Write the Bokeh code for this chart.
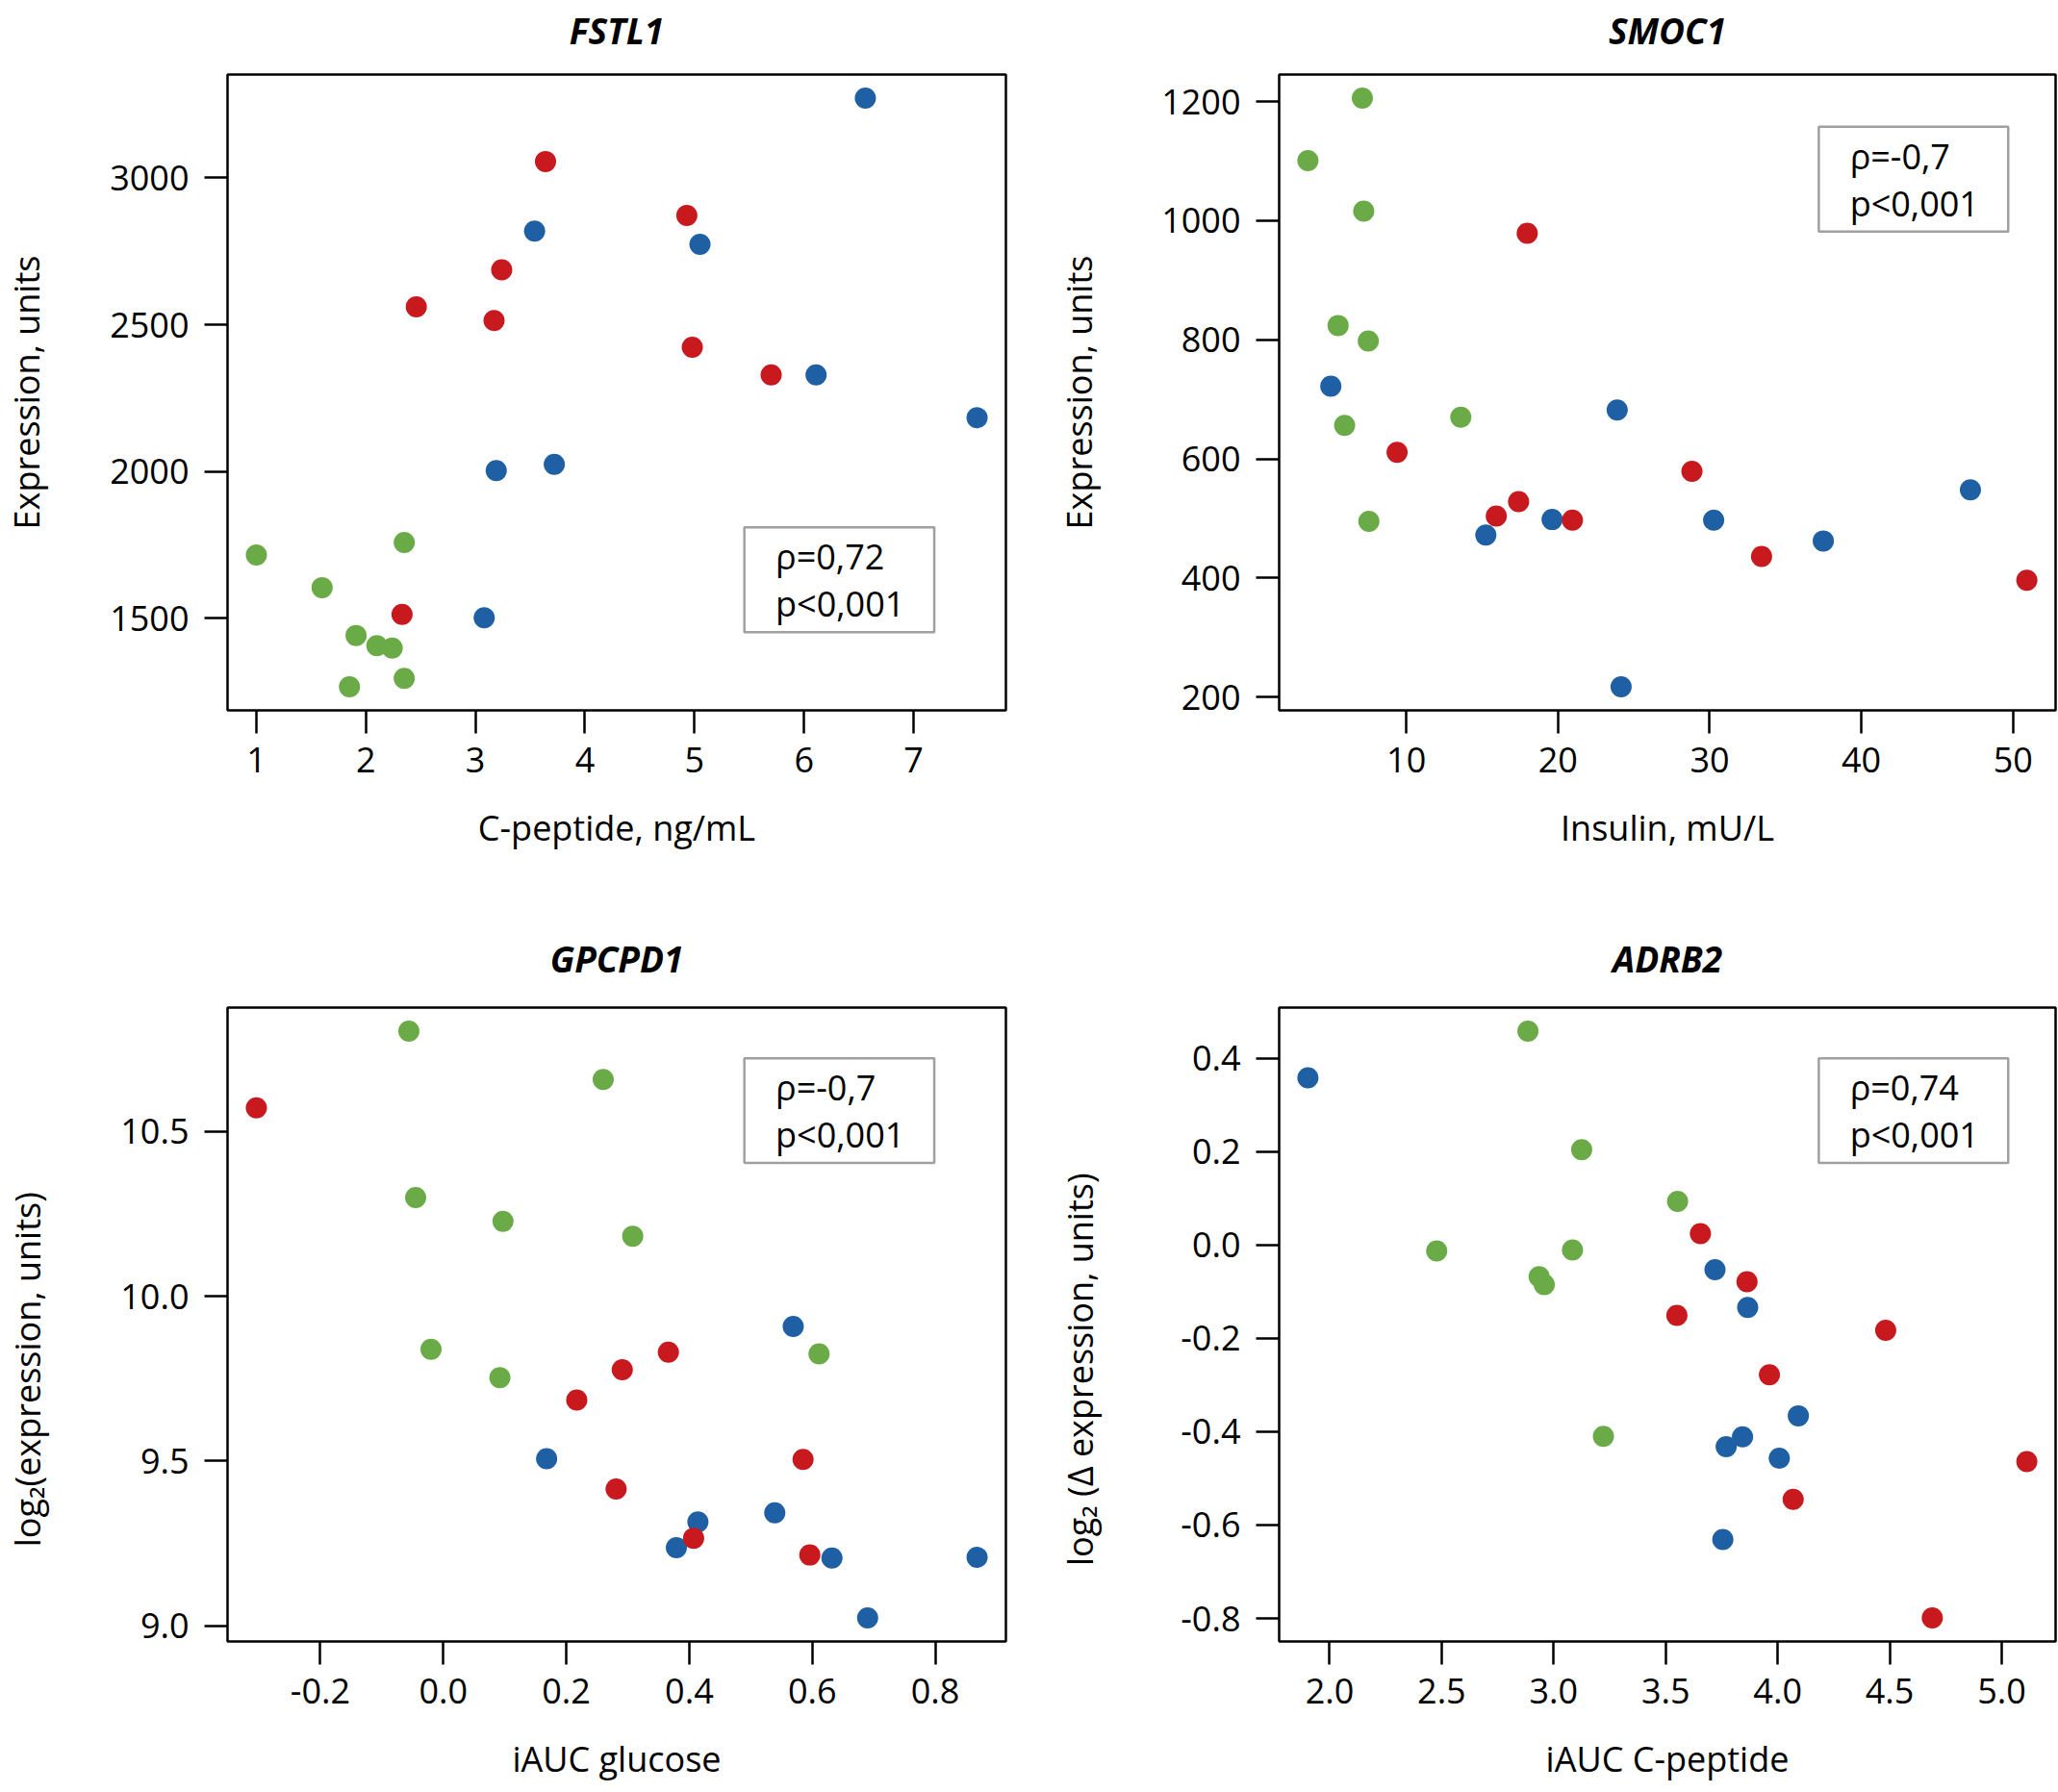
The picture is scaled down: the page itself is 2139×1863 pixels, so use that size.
from bokeh.plotting import figure
from bokeh.layouts import column, row
from bokeh.models import BoxAnnotation, Label, FixedTicker, Range1d, LinearAxis
from bokeh.embed import file_html
from bokeh.resources import INLINE

FONT = "Open Sans"
BLUE = "#1f5fa3"
RED = "#c8191f"
GREEN = "#6aab47"
NBSP_PAD = "\u00a0" * 10  # the log2 labels sit slightly below the frame centre in the reference

# ---------------- FSTL1 vs C-peptide ----------------
fstl1_x_blue = [6.56, 3.54, 5.05, 6.11, 7.58, 3.19, 3.72, 3.08]
fstl1_y_blue = [3272, 2819, 2774, 2329, 2183, 2003, 2024, 1501]
fstl1_x_red = [3.64, 4.93, 3.24, 2.46, 3.17, 4.98, 5.70, 2.33]
fstl1_y_red = [3056, 2872, 2687, 2561, 2514, 2423, 2329, 1513]
fstl1_x_green = [1.00, 1.60, 2.35, 1.91, 2.10, 2.24, 2.35, 1.85]
fstl1_y_green = [1715, 1604, 1758, 1441, 1406, 1398, 1295, 1266]
fstl1_xticks = [1, 2, 3, 4, 5, 6, 7]
fstl1_xlabels = ["1", "2", "3", "4", "5", "6", "7"]
fstl1_yticks = [1500, 2000, 2500, 3000]
fstl1_ylabels = ["1500", "2000", "2500", "3000"]
fstl1_stats = ["ρ=0,72", "p<0,001"]

# ---------------- SMOC1 vs Insulin ----------------
smoc1_x_green = [7.10, 3.51, 7.19, 5.50, 7.49, 5.93, 13.59, 7.53]
smoc1_y_green = [1206, 1101, 1016, 824, 798, 656, 670, 495]
smoc1_x_blue = [5.02, 23.90, 15.24, 19.61, 30.26, 37.49, 47.19, 24.16]
smoc1_y_blue = [722, 682, 472, 498, 497, 462, 548, 217]
smoc1_x_red = [17.97, 9.39, 15.93, 17.40, 20.95, 28.83, 33.42, 50.91]
smoc1_y_red = [979, 611, 504, 528, 497, 579, 436, 396]
smoc1_xticks = [10, 20, 30, 40, 50]
smoc1_xlabels = ["10", "20", "30", "40", "50"]
smoc1_yticks = [200, 400, 600, 800, 1000, 1200]
smoc1_ylabels = ["200", "400", "600", "800", "1000", "1200"]
smoc1_stats = ["ρ=-0,7", "p<0,001"]

# ---------------- GPCPD1 vs iAUC glucose ----------------
gpcpd1_x_green = [-0.056, 0.260, -0.045, 0.097, 0.308, -0.020, 0.092, 0.611]
gpcpd1_y_green = [10.804, 10.657, 10.299, 10.227, 10.182, 9.839, 9.753, 9.825]
gpcpd1_x_blue = [0.569, 0.168, 0.414, 0.379, 0.539, 0.632, 0.868, 0.690]
gpcpd1_y_blue = [9.908, 9.507, 9.315, 9.237, 9.343, 9.206, 9.208, 9.024]
gpcpd1_x_red = [-0.304, 0.366, 0.291, 0.217, 0.281, 0.585, 0.407, 0.596]
gpcpd1_y_red = [10.571, 9.830, 9.777, 9.685, 9.415, 9.505, 9.266, 9.215]
gpcpd1_xticks = [-0.2, 0.0, 0.2, 0.4, 0.6, 0.8]
gpcpd1_xlabels = ["-0.2", "0.0", "0.2", "0.4", "0.6", "0.8"]
gpcpd1_yticks = [9.0, 9.5, 10.0, 10.5]
gpcpd1_ylabels = ["9.0", "9.5", "10.0", "10.5"]
gpcpd1_stats = ["ρ=-0,7", "p<0,001"]

# ---------------- ADRB2 vs iAUC C-peptide ----------------
adrb2_x_green = [2.885, 3.125, 3.553, 2.478, 3.084, 2.935, 2.958, 3.222]
adrb2_y_green = [0.458, 0.204, 0.093, -0.013, -0.011, -0.068, -0.085, -0.410]
adrb2_x_blue = [1.903, 3.720, 3.866, 4.092, 3.843, 3.770, 4.007, 3.755]
adrb2_y_blue = [0.358, -0.053, -0.134, -0.366, -0.411, -0.432, -0.457, -0.631]
adrb2_x_red = [3.655, 3.863, 3.550, 4.482, 3.963, 4.069, 5.112, 4.690]
adrb2_y_red = [0.024, -0.079, -0.151, -0.183, -0.278, -0.545, -0.464, -0.799]
adrb2_xticks = [2.0, 2.5, 3.0, 3.5, 4.0, 4.5, 5.0]
adrb2_xlabels = ["2.0", "2.5", "3.0", "3.5", "4.0", "4.5", "5.0"]
adrb2_yticks = [-0.8, -0.6, -0.4, -0.2, 0.0, 0.2, 0.4]
adrb2_ylabels = ["-0.8", "-0.6", "-0.4", "-0.2", "0.0", "0.2", "0.4"]
adrb2_stats = ["ρ=0,74", "p<0,001"]


def padded(vals, frac=0.04):
    lo, hi = min(vals), max(vals)
    d = (hi - lo) * frac
    return lo - d, hi + d


def panel(title, xlab, ylab, groups, xticks, xlabels, yticks, ylabels, stats,
          box, width, height, bl, br, bt, bb, ylab_standoff, title_standoff):
    allx = [v for g in groups for v in g[0]]
    ally = [v for g in groups for v in g[1]]
    x0, x1 = padded(allx)
    y0, y1 = padded(ally)
    p = figure(width=width, height=height, x_range=Range1d(x0, x1), y_range=Range1d(y0, y1),
               output_backend="svg", toolbar_location=None,
               min_border_left=bl, min_border_right=br, min_border_top=bt, min_border_bottom=bb)
    p.outline_line_color = "black"
    p.outline_line_width = 2.5
    p.outline_line_alpha = 1
    p.xgrid.visible = False
    p.ygrid.visible = False
    p.background_fill_color = "white"
    p.border_fill_color = "white"

    for ax, ticks, labels, lab in ((p.xaxis[0], xticks, xlabels, xlab), (p.yaxis[0], yticks, ylabels, ylab)):
        ax.ticker = FixedTicker(ticks=ticks, minor_ticks=[])
        ax.major_label_overrides = {t: l for t, l in zip(ticks, labels)}
        ax.axis_line_color = None
        ax.major_tick_line_color = "black"
        ax.major_tick_line_width = 2.5
        ax.major_tick_out = 24
        ax.major_tick_in = 0
        ax.minor_tick_line_color = None
        ax.major_label_text_font = FONT
        ax.major_label_text_font_size = "36px"
        ax.major_label_text_color = "black"
        ax.axis_label = lab
        ax.axis_label_text_font = FONT
        ax.axis_label_text_font_size = "36px"
        ax.axis_label_text_font_style = "normal"
        ax.axis_label_text_color = "black"
    p.xaxis[0].major_label_standoff = 14
    p.xaxis[0].axis_label_standoff = 30
    p.yaxis[0].major_label_standoff = 16
    p.yaxis[0].major_label_orientation = "horizontal"
    p.yaxis[0].axis_label_standoff = ylab_standoff

    # panel title: label of a bare axis placed above the frame
    tax = LinearAxis(ticker=FixedTicker(ticks=[], minor_ticks=[]), axis_line_color=None,
                     major_tick_line_color=None, minor_tick_line_color=None,
                     major_tick_out=0, major_tick_in=0, minor_tick_out=0, major_label_standoff=0,
                     axis_label=title, axis_label_standoff=title_standoff, axis_label_text_font=FONT,
                     axis_label_text_font_style="bold italic", axis_label_text_font_size="37px",
                     axis_label_text_color="black")
    p.add_layout(tax, "above")

    for gx, gy, col in groups:
        p.scatter(gx, gy, size=22, fill_color=col, line_color=None)

    fl, fr, ft, fb = box
    xl = x0 + fl * (x1 - x0)
    xr = x0 + fr * (x1 - x0)
    yt = y1 - ft * (y1 - y0)
    yb = y1 - fb * (y1 - y0)
    p.add_layout(BoxAnnotation(left=xl, right=xr, top=yt, bottom=yb, fill_color="white",
                               fill_alpha=1.0, line_color="#a0a0a0", line_width=2.5, line_alpha=1))
    tx = xl + 0.04 * (x1 - x0)
    for i, s in enumerate(stats):
        ty = yt - (0.28 + 0.45 * i) * (yt - yb)
        p.add_layout(Label(x=tx, y=ty, text=s, text_font=FONT, text_font_size="36px",
                           text_baseline="middle", text_color="black"))
    return p


p1 = panel("FSTL1", "C-peptide, ng/mL", "Expression, units",
           [(fstl1_x_green, fstl1_y_green, GREEN), (fstl1_x_blue, fstl1_y_blue, BLUE),
            (fstl1_x_red, fstl1_y_red, RED)],
           fstl1_xticks, fstl1_xlabels, fstl1_yticks, fstl1_ylabels, fstl1_stats,
           (0.664, 0.908, 0.712, 0.877), 1073, 900, 236, 28, 77, 162, 59, 21)
p2 = panel("SMOC1", "Insulin, mU/L", "Expression, units",
           [(smoc1_x_green, smoc1_y_green, GREEN), (smoc1_x_blue, smoc1_y_blue, BLUE),
            (smoc1_x_red, smoc1_y_red, RED)],
           smoc1_xticks, smoc1_xlabels, smoc1_yticks, smoc1_ylabels, smoc1_stats,
           (0.695, 0.939, 0.082, 0.247), 1066, 900, 256, 3, 77, 162, 58, 21)
p3 = panel("GPCPD1", "iAUC glucose", "log₂(expression, units)" + NBSP_PAD,
           [(gpcpd1_x_green, gpcpd1_y_green, GREEN), (gpcpd1_x_blue, gpcpd1_y_blue, BLUE),
            (gpcpd1_x_red, gpcpd1_y_red, RED)],
           gpcpd1_xticks, gpcpd1_xlabels, gpcpd1_yticks, gpcpd1_ylabels, gpcpd1_stats,
           (0.664, 0.908, 0.080, 0.245), 1073, 955, 236, 28, 147, 147, 69, 26)
p4 = panel("ADRB2", "iAUC C-peptide", "log₂ (Δ expression, units)" + NBSP_PAD,
           [(adrb2_x_green, adrb2_y_green, GREEN), (adrb2_x_blue, adrb2_y_blue, BLUE),
            (adrb2_x_red, adrb2_y_red, RED)],
           adrb2_xticks, adrb2_xlabels, adrb2_yticks, adrb2_ylabels, adrb2_stats,
           (0.695, 0.939, 0.080, 0.245), 1066, 955, 256, 3, 147, 147, 77, 26)

layout = column(row(p1, p2), row(p3, p4))
open("out.html", "w").write(file_html(layout, INLINE))
